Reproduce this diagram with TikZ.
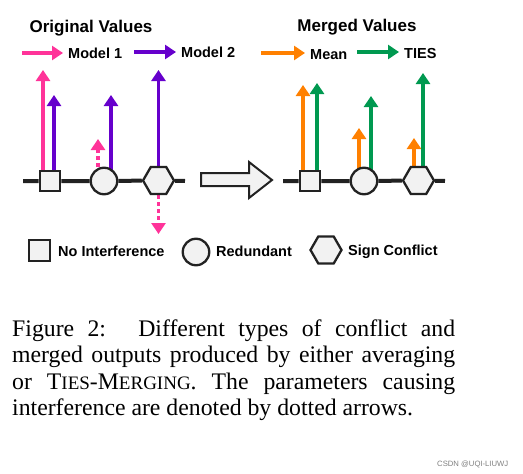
\documentclass[tikz,border=0pt]{standalone}
\usepackage{fontspec}
\setmainfont{Liberation Serif}
\setsansfont{Liberation Sans}
\usetikzlibrary{arrows.meta,shapes.geometric,backgrounds}
\definecolor{mpink}{RGB}{255,51,153}
\definecolor{mpurple}{RGB}{102,0,204}
\definecolor{morange}{RGB}{255,128,0}
\definecolor{mgreen}{RGB}{0,153,80}
\definecolor{shapefill}{RGB}{242,242,242}
\definecolor{ink}{RGB}{34,34,34}
\newcommand\fakesc[1]{{\fontsize{19}{20}\selectfont #1}}

\begin{document}
\begin{tikzpicture}[x=1pt, y=-1pt, >={Triangle[width=14pt,length=11pt]},
    lbl/.style={font=\sffamily\bfseries\fontsize{14.5}{16}\selectfont, inner sep=0, anchor=base west},
    ttl/.style={font=\sffamily\bfseries\fontsize{17}{19}\selectfont, inner sep=0, anchor=base},
    sq/.style={draw=ink, fill=shapefill, line width=2.3pt, minimum size=20.5pt, inner sep=0},
    rd/.style={circle, draw=ink, fill=shapefill, line width=2.3pt, minimum size=26.5pt, inner sep=0},
    hx/.style={regular polygon, regular polygon sides=6, draw=ink,
               fill=shapefill, line width=2.3pt, minimum size=31pt, inner sep=0},
    ax/.style={draw=ink, line width=4pt},
    v/.style={->, line width=3.8pt},
    key/.style={v, shorten >=5pt},
    dt/.style={v, dash pattern=on 4pt off 3pt}]
  \useasboundingbox (0,0) rectangle (523,474);

  % original values
  \node[ttl] (t1) at (91,32) {Original Values};
  \coordinate (k1) at (22,53);
  \node[lbl] (m1) at (68,58.5) {Model 1};
  \coordinate (k2) at (134,52);
  \node[lbl] (m2) at (181,57.5) {Model 2};
  \draw[key, mpink] (k1) -- (k1 -| m1.west);
  \draw[key, mpurple] (k2) -- (k2 -| m2.west);

  \node[sq] (s1) at (50,181) {};
  \node[rd] (c1) at (104,181) {};
  \node[hx] (h1) at (158.5,180.5) {};
  \coordinate (a0) at (23,181);
  \coordinate (a1) at (185,181);
  \draw[ax] (a0) -- (s1) -- (c1) -- (h1) -- (a1);

  \coordinate (p1) at (43,70);
  \coordinate (p2) at (54,95);
  \coordinate (p3) at (98,139);
  \coordinate (p4) at (111,95);
  \coordinate (p5) at (158.5,70);
  \coordinate (p6) at (158.5,234);
  \begin{scope}[on background layer]
    \draw[v, mpink] (p1 |- s1) -- (p1);
    \draw[v, mpurple] (p2 |- s1) -- (p2);
    \draw[dt, mpink] (p3 |- c1) -- (p3);
    \draw[v, mpurple] (p4 |- c1) -- (p4);
    \draw[v, mpurple] (h1) -- (p5);
    \draw[dt, mpink] (h1) -- (p6);
  \end{scope}

  % hollow arrow
  \draw[line width=2pt, draw=ink, fill=shapefill]
    (201,173) -- (249,173) -- (249,162) -- (272,180) -- (249,198) -- (249,186) -- (201,186) -- cycle;

  % merged values
  \node[ttl] (t2) at (357,31) {Merged Values};
  \coordinate (k3) at (261,53);
  \node[lbl] (m3) at (310,59) {Mean};
  \coordinate (k4) at (357,52);
  \node[lbl] (m4) at (404,58) {TIES};
  \draw[key, morange] (k3) -- (k3 -| m3.west);
  \draw[key, mgreen] (k4) -- (k4 -| m4.west);

  \node[sq] (s2) at (310,181) {};
  \node[rd] (c2) at (364,181) {};
  \node[hx] (h2) at (418.5,180.5) {};
  \coordinate (b0) at (283,181);
  \coordinate (b1) at (445,181);
  \draw[ax] (b0) -- (s2) -- (c2) -- (h2) -- (b1);

  \coordinate (q1) at (303,85);
  \coordinate (q2) at (317,83);
  \coordinate (q3) at (359,128);
  \coordinate (q4) at (371,96);
  \coordinate (q5) at (414,138);
  \coordinate (q6) at (423,73);
  \begin{scope}[on background layer]
    \draw[v, morange] (q1 |- s2) -- (q1);
    \draw[v, mgreen] (q2 |- s2) -- (q2);
    \draw[v, morange] (q3 |- c2) -- (q3);
    \draw[v, mgreen] (q4 |- c2) -- (q4);
    \draw[v, morange] (q5 |- h2) -- (q5);
    \draw[v, mgreen] (q6 |- h2) -- (q6);
  \end{scope}

  % legend
  \node[sq, minimum size=21pt] (s3) at (39.5,250.5) {};
  \node[lbl] (n1) at (58,256.7) {No Interference};
  \node[rd] (c3) at (196,252) {};
  \node[lbl] (n2) at (216,256.7) {Redundant};
  \node[hx] (h3) at (326,250) {};
  \node[lbl] (n3) at (348,255) {Sign Conflict};

  % caption
  \node[inner sep=0, anchor=base west, font=\fontsize{23.75}{26.5}\selectfont] (cap) at (12,336)
    {\parbox[t]{443pt}{%
      \makebox[443pt][s]{Figure 2:\hspace{0.4em} Different types of conflict and}\\
      \makebox[443pt][s]{merged outputs produced by either averaging}\\
      \makebox[443pt][s]{or T\fakesc{IES}-M\fakesc{ERGING}. The parameters causing}\\
      interference are denoted by dotted arrows.}};
  \node[inner sep=0, anchor=base west, text=gray, font=\sffamily\fontsize{7.7}{8}\selectfont] (wm) at (437,466) {CSDN @UQI-LIUWJ};
\end{tikzpicture}
\end{document}
